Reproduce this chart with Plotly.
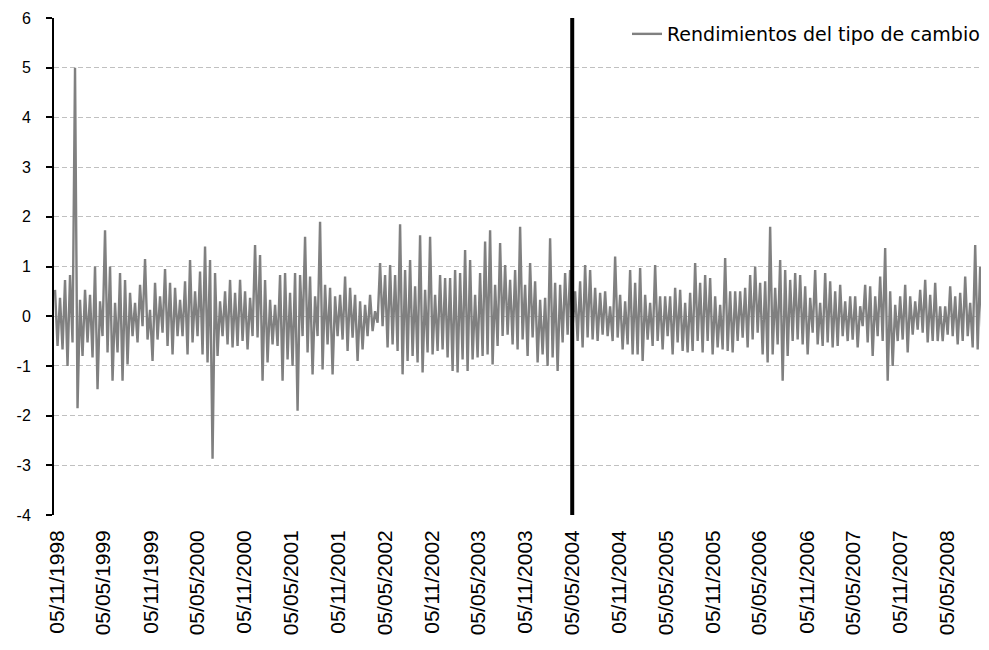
import pandas as pd
import plotly.graph_objects as go

# Envelope of the daily return series (high / low per ~5 px step)
seg1_hi = [0.53,0.37,0.73,0.83,5.0,0.33,0.53,0.43,1.0,0.3,1.73,1.0,0.27,0.87,0.73,0.47,0.27,0.63,1.15,0.13,0.67,0.4,0.95,0.67,0.57,0.33]
seg1_lo = [-0.6,-0.67,-1.0,-0.53,-1.85,-0.8,-0.53,-0.83,-1.47,-0.4,-0.73,-1.3,-0.73,-1.3,-0.97,-0.4,-0.53,-0.2,-0.47,-0.9,-0.47,-0.33,-0.6,-0.77,-0.4,-0.4]
seg2_hi = [0.7,1.13,0.5,0.9,1.4,1.13,0.87,0.3,0.5,0.73,0.47,0.73,0.5,0.37,1.43,1.23,0.73,0.33,0.23,0.83,0.87,0.47,0.87,0.83,1.6,0.8,0.4]
seg2_lo = [-0.77,-0.53,-0.4,-0.77,-0.93,-2.87,-0.8,-0.4,-0.57,-0.63,-0.6,-0.5,-0.67,-0.4,-0.43,-1.3,-0.93,-0.57,-0.6,-1.3,-0.87,-1.0,-1.9,-0.4,-0.73,-1.17,-0.4]
seg3_hi = [1.9,0.63,0.57,0.4,0.43,0.8,0.57,0.43,0.3,0.23,0.43,0.1,1.07,0.83,1.03,0.83,1.85,0.93,1.13,0.6,1.63,0.53,1.6,0.43,0.83,0.77,0.77]
seg3_lo = [-1.07,-0.57,-1.17,-0.4,-0.47,-0.7,-0.43,-0.9,-0.67,-0.4,-0.3,-0.13,-0.2,-0.63,-0.57,-0.7,-1.17,-0.9,-0.8,-0.93,-1.13,-0.73,-0.77,-0.7,-0.67,-0.83,-1.1]
seg4_hi = [0.93,0.87,1.33,1.13,0.43,0.87,1.5,1.73,0.63,1.47,1.03,0.73,0.93,1.8,0.63,1.07,0.7,0.33,0.37,1.57,0.67,0.63,0.87,0.93,0.5,0.7,1.03]
seg4_lo = [-1.13,-0.87,-1.1,-0.87,-0.83,-0.8,-0.77,-0.97,-0.6,-0.4,-0.37,-0.57,-0.67,-0.47,-0.8,-0.43,-0.93,-0.77,-1.0,-0.83,-1.1,-0.53,-0.37,-0.2,-0.5,-0.63,-0.43]
seg5_hi = [0.93,0.57,0.47,0.5,0.2,1.2,0.43,0.3,0.93,0.67,0.97,0.43,0.27,1.03,0.4,0.4,0.4,0.57,0.53,0.27,0.47,1.07,0.67,0.83,0.77,0.4,0.23]
seg5_lo = [-0.47,-0.5,-0.37,-0.4,-0.5,-0.43,-0.67,-0.57,-0.77,-0.77,-0.9,-0.47,-0.6,-0.5,-0.67,-0.4,-0.77,-0.53,-0.7,-0.73,-0.7,-0.5,-0.73,-0.5,-0.77,-0.63,-0.67]
seg6_hi = [1.17,0.5,0.5,0.5,0.57,0.83,1.0,0.67,0.7,1.8,0.57,1.13,0.93,0.73,0.87,0.83,0.6,0.37,0.93,0.27,0.87,0.7,0.5,0.63,0.3,0.4,0.4]
seg6_lo = [-0.7,-0.73,-0.5,-0.43,-0.63,-0.47,-0.33,-0.77,-0.93,-0.77,-0.57,-1.3,-0.8,-0.5,-0.47,-0.57,-0.77,-0.33,-0.57,-0.6,-0.53,-0.63,-0.6,-0.4,-0.5,-0.47,-0.63]
seg7_hi = [0.2,0.63,0.6,0.4,0.8,1.37,0.5,0.23,0.4,0.63,0.4,0.3,0.53,0.73,0.43,0.67,0.2,0.2,0.6,0.4,0.47,0.8,0.27,1.43,1.0]
seg7_lo = [-0.2,-0.53,-0.8,-0.4,-0.5,-1.3,-1.0,-0.5,-0.47,-0.73,-0.37,-0.27,-0.33,-0.53,-0.5,-0.5,-0.5,-0.37,-0.4,-0.57,-0.5,-0.4,-0.63,-0.67,-0.53]

tick_labels = ["05/11/1998","05/05/1999","05/11/1999","05/05/2000","05/11/2000",
               "05/05/2001","05/11/2001","05/05/2002","05/11/2002","05/05/2003",
               "05/11/2003","05/05/2004","05/11/2004","05/05/2005","05/11/2005",
               "05/05/2006","05/11/2006","05/05/2007","05/11/2007","05/05/2008"]
y_ticks = [-4, -3, -2, -1, 0, 1, 2, 3, 4, 5, 6]
series_name = "Rendimientos del tipo de cambio"
start_date = "1998-10-28"
end_date = "2008-09-21"
break_date = "2004-05-05"

highs = seg1_hi + seg2_hi + seg3_hi + seg4_hi + seg5_hi + seg6_hi + seg7_hi
lows = seg1_lo + seg2_lo + seg3_lo + seg4_lo + seg5_lo + seg6_lo + seg7_lo
values = []
for h, l in zip(highs, lows):
    values += [h, l]
dates = pd.date_range(start_date, end_date, periods=len(values))
tickvals = [pd.to_datetime(t, format="%d/%m/%Y") for t in tick_labels]

fig = go.Figure()
fig.add_trace(go.Scatter(x=dates, y=values, mode="lines", name=series_name,
                         line=dict(color="#808080", width=2.4, simplify=False)))
fig.add_shape(type="line", x0=break_date, x1=break_date, xref="x",
              y0=0, y1=1, yref="paper", line=dict(color="black", width=4))

# The page body has an 8px margin, so the figure is sized/margined to compensate.
font_family = "Liberation Sans, Arial, sans-serif"
fig.update_layout(
    width=981, height=642,
    margin=dict(l=46, r=4, t=10, b=135, autoexpand=False),
    paper_bgcolor="white", plot_bgcolor="white",
    font=dict(family=font_family, color="black"),
    showlegend=True,
    legend=dict(x=1.0, xanchor="right", y=1.006, yanchor="top",
                bgcolor="rgba(0,0,0,0)",
                font=dict(size=19, family="DejaVu Sans, sans-serif"),
                borderwidth=0),
)
fig.update_yaxes(range=[-4, 6], tickvals=y_ticks, ticktext=[str(v) for v in y_ticks],
                 showline=True, linecolor="black",
                 linewidth=2, ticks="outside", ticklen=6, tickcolor="black",
                 tickwidth=2, tickfont=dict(size=16), ticklabelstandoff=12,
                 ticklabeloverflow="allow",
                 showgrid=True, gridcolor="#c0c0c0", griddash="5px,3px",
                 gridwidth=1, zeroline=False, automargin=False)
fig.update_xaxes(type="date", range=["1998-10-24", "2008-09-30"],
                 tickvals=tickvals, ticktext=tick_labels, tickangle=-90,
                 tickfont=dict(size=21), showgrid=False, showline=False,
                 zeroline=False, ticks="", ticklabelstandoff=10, automargin=False,
                 ticklabeloverflow="allow")
fig.write_html("out.html")
